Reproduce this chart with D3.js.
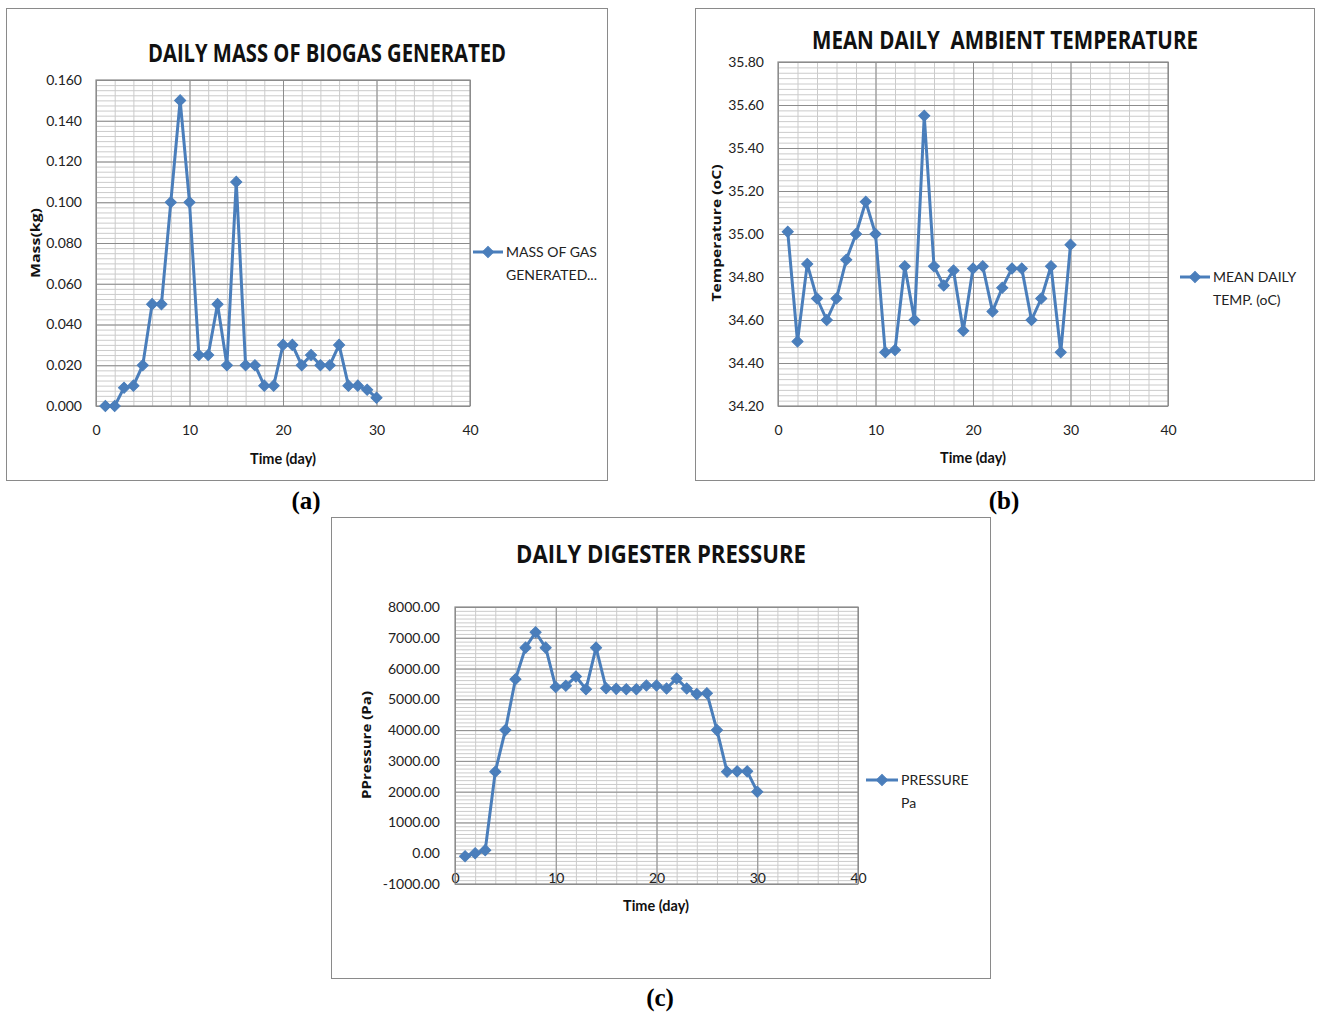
<!DOCTYPE html>
<html>
<head>
<meta charset="utf-8">
<script src="https://cdn.jsdelivr.net/npm/d3@7"></script>
<style>
  html, body { margin: 0; padding: 0; background: #fff; }
  svg { display: block; }
</style>
</head>
<body>
<svg id="chart" width="1317" height="1014"></svg>
<script>
// ---------------- DATA ----------------
const days = d3.range(1, 31);
const xTickLabels = [0, 10, 20, 30, 40];

const massTitle = "DAILY MASS OF BIOGAS GENERATED";
const massValues = [0.000, 0.000, 0.009, 0.010, 0.020, 0.050, 0.050, 0.100, 0.150, 0.100,
                    0.025, 0.025, 0.050, 0.020, 0.110, 0.020, 0.020, 0.010, 0.010, 0.030,
                    0.030, 0.020, 0.025, 0.020, 0.020, 0.030, 0.010, 0.010, 0.008, 0.004];
const massTicks = [0.000, 0.020, 0.040, 0.060, 0.080, 0.100, 0.120, 0.140, 0.160];
const massLegend = ["MASS OF GAS", "GENERATED..."];

const tempTitle = "MEAN DAILY  AMBIENT TEMPERATURE";
const tempValues = [35.01, 34.50, 34.86, 34.70, 34.60, 34.70, 34.88, 35.00, 35.15, 35.00,
                    34.45, 34.46, 34.85, 34.60, 35.55, 34.85, 34.76, 34.83, 34.55, 34.84,
                    34.85, 34.64, 34.75, 34.84, 34.84, 34.60, 34.70, 34.85, 34.45, 34.95];
const tempTicks = [34.20, 34.40, 34.60, 34.80, 35.00, 35.20, 35.40, 35.60, 35.80];
const tempLegend = ["MEAN DAILY", "TEMP. (oC)"];

const presTitle = "DAILY DIGESTER PRESSURE";
const presValues = [-100, 0, 100, 2650, 4000, 5650, 6680, 7180, 6680, 5400,
                    5440, 5740, 5330, 6680, 5360, 5340, 5330, 5330, 5450, 5450,
                    5350, 5680, 5350, 5170, 5200, 4000, 2650, 2660, 2660, 2000];
const presTicks = [-1000, 0, 1000, 2000, 3000, 4000, 5000, 6000, 7000, 8000];
const presLegend = ["PRESSURE", "Pa"];

// ---------------- STYLE ----------------
const BLUE = "#4A7EBB";
const MAJOR = "#8c8c8c";
const MINOR = "#cbcbcb";
const LABEL_FONT = "Lato, 'Open Sans', sans-serif";
const TITLE_FONT = "'Liberation Sans Narrow', 'Open Sans', sans-serif";

const svg = d3.select("#chart");

function panel(cfg) {
  const g = svg.append("g");
  // outer frame
  g.append("rect")
    .attr("x", cfg.box[0] + 0.5).attr("y", cfg.box[1] + 0.5)
    .attr("width", cfg.box[2]).attr("height", cfg.box[3])
    .attr("fill", "#fff").attr("stroke", "#8a8a8a").attr("stroke-width", 1);

  const p = cfg.plot;
  const x = d3.scaleLinear().domain([0, 40]).range([p.l, p.r]);
  const y = d3.scaleLinear().domain(cfg.yDomain).range([p.b, p.t]);
  const w = p.r - p.l, h = p.b - p.t;
  const fmt = d3.format(cfg.fmt);
  const fmtHyphen = v => fmt(v).replace("\u2212", "-");

  // minor grid
  const nMinorY = Math.round((cfg.yDomain[1] - cfg.yDomain[0]) / cfg.yMinor);
  const minorY = d3.range(nMinorY + 1).map(i => cfg.yDomain[0] + i * cfg.yMinor);
  const minorX = d3.range(0, 41, 2);

  g.append("g").attr("transform", `translate(${p.l},0)`)
    .call(d3.axisLeft(y).tickValues(minorY).tickSize(-w).tickFormat(""))
    .call(a => a.select(".domain").remove())
    .call(a => a.selectAll("line").attr("stroke", MINOR).attr("stroke-width", 1));
  g.append("g").attr("transform", `translate(0,${p.b})`)
    .call(d3.axisBottom(x).tickValues(minorX).tickSize(-h).tickFormat(""))
    .call(a => a.select(".domain").remove())
    .call(a => a.selectAll("line").attr("stroke", MINOR).attr("stroke-width", 1));

  // major grid + y labels
  g.append("g").attr("transform", `translate(${p.l},0)`)
    .call(d3.axisLeft(y).tickValues(cfg.yTicks).tickSize(-w).tickPadding(cfg.yPad).tickFormat(fmtHyphen))
    .call(a => a.select(".domain").remove())
    .call(a => a.selectAll("line").attr("stroke", MAJOR).attr("stroke-width", 1))
    .call(a => a.selectAll("text").attr("font-family", LABEL_FONT).attr("font-size", 14).attr("fill", "#222"));
  g.append("g").attr("transform", `translate(0,${p.b})`)
    .call(d3.axisBottom(x).tickValues(xTickLabels).tickSize(-h).tickPadding(cfg.xPad).tickFormat(d3.format("d")))
    .call(a => a.select(".domain").remove())
    .call(a => a.selectAll("line").attr("stroke", MAJOR).attr("stroke-width", 1))
    .call(a => a.selectAll("text").attr("font-family", LABEL_FONT).attr("font-size", 14).attr("fill", "#222"));

  // plot border
  g.append("rect").attr("x", p.l).attr("y", p.t).attr("width", w).attr("height", h)
    .attr("fill", "none").attr("stroke", MAJOR).attr("stroke-width", 1.2);

  // series
  const pts = days.map((d, i) => [d, cfg.values[i]]);
  g.append("path").datum(pts)
    .attr("fill", "none").attr("stroke", BLUE).attr("stroke-width", 3).attr("stroke-linejoin", "round")
    .attr("d", d3.line().x(d => x(d[0])).y(d => y(d[1])));
  const sym = d3.symbol(d3.symbolSquare, 62);
  g.selectAll("path.mk").data(pts).join("path").attr("class", "mk")
    .attr("d", sym)
    .attr("transform", d => `translate(${x(d[0])},${y(d[1])}) rotate(45)`)
    .attr("fill", BLUE).attr("stroke", BLUE).attr("stroke-width", 1);

  // title
  g.append("text").attr("x", cfg.title.x).attr("y", cfg.title.y)
    .attr("text-anchor", "middle").attr("font-family", TITLE_FONT).attr("font-weight", "bold")
    .attr("font-size", 25).attr("fill", "#111")
    .style("white-space", "pre")
    .attr("textLength", cfg.title.len).attr("lengthAdjust", "spacingAndGlyphs")
    .text(cfg.title.text);

  // y axis title
  g.append("text")
    .attr("transform", `translate(${cfg.yTitle.x},${cfg.yTitle.y}) rotate(-90)`)
    .attr("text-anchor", "middle").attr("font-family", "'Open Sans', sans-serif").attr("font-weight", "bold")
    .attr("font-size", 13).attr("fill", "#111")
    .attr("textLength", cfg.yTitle.len).attr("lengthAdjust", "spacingAndGlyphs")
    .text(cfg.yTitle.text);

  // x axis title
  g.append("text").attr("x", cfg.xTitle.x).attr("y", cfg.xTitle.y)
    .attr("text-anchor", "middle").attr("font-family", LABEL_FONT).attr("font-weight", "bold")
    .attr("font-size", 15).attr("fill", "#111")
    .attr("textLength", 66).attr("lengthAdjust", "spacingAndGlyphs")
    .text("Time (day)");

  // legend
  const L = cfg.legend;
  g.append("line").attr("x1", L.x1).attr("x2", L.x2).attr("y1", L.y).attr("y2", L.y)
    .attr("stroke", BLUE).attr("stroke-width", 3);
  g.append("path").attr("d", sym)
    .attr("transform", `translate(${(L.x1 + L.x2) / 2},${L.y}) rotate(45)`)
    .attr("fill", BLUE).attr("stroke", BLUE);
  cfg.legendText.forEach((t, i) => {
    g.append("text").attr("x", L.x2 + 3).attr("y", L.y + 5 + i * 23)
      .attr("font-family", LABEL_FONT).attr("font-size", 14).attr("fill", "#222").text(t);
  });

  // panel label
  svg.append("text").attr("x", cfg.tag.x).attr("y", cfg.tag.y)
    .attr("text-anchor", "middle").attr("font-family", "'Liberation Serif', serif")
    .attr("font-weight", "bold").attr("font-size", 25).attr("fill", "#000")
    .text(cfg.tag.text);
}

panel({
  box: [6, 8, 601, 472],
  plot: { l: 96, r: 470, t: 80, b: 406 },
  yDomain: [0, 0.16], yMinor: 0.0025, yTicks: massTicks, fmt: ".3f",
  yPad: 14, xPad: 19,
  values: massValues,
  title: { text: massTitle, x: 327, y: 62, len: 358 },
  yTitle: { text: "Mass(kg)", x: 40, y: 243, len: 70 },
  xTitle: { x: 283, y: 464 },
  legend: { x1: 473, x2: 503, y: 252 },
  legendText: massLegend,
  tag: { text: "(a)", x: 306, y: 509 }
});

panel({
  box: [695, 8, 619, 472],
  plot: { l: 778, r: 1168, t: 62, b: 406 },
  yDomain: [34.2, 35.8], yMinor: 0.025, yTicks: tempTicks, fmt: ".2f",
  yPad: 14, xPad: 19,
  values: tempValues,
  title: { text: tempTitle, x: 1005, y: 49, len: 386 },
  yTitle: { text: "Temperature (oC)", x: 721, y: 233, len: 137 },
  xTitle: { x: 973, y: 463 },
  legend: { x1: 1180, x2: 1210, y: 277 },
  legendText: tempLegend,
  tag: { text: "(b)", x: 1004, y: 509 }
});

panel({
  box: [331, 517, 659, 461],
  plot: { l: 455, r: 858, t: 607, b: 884 },
  yDomain: [-1000, 8000], yMinor: 125, yTicks: presTicks, fmt: ".2f",
  yPad: 15, xPad: -11,
  values: presValues,
  title: { text: presTitle, x: 661, y: 563, len: 290 },
  yTitle: { text: "PPressure (Pa)", x: 371, y: 745, len: 108 },
  xTitle: { x: 656, y: 911 },
  legend: { x1: 866, x2: 898, y: 780 },
  legendText: presLegend,
  tag: { text: "(c)", x: 660, y: 1006 }
});
</script>
</body>
</html>
